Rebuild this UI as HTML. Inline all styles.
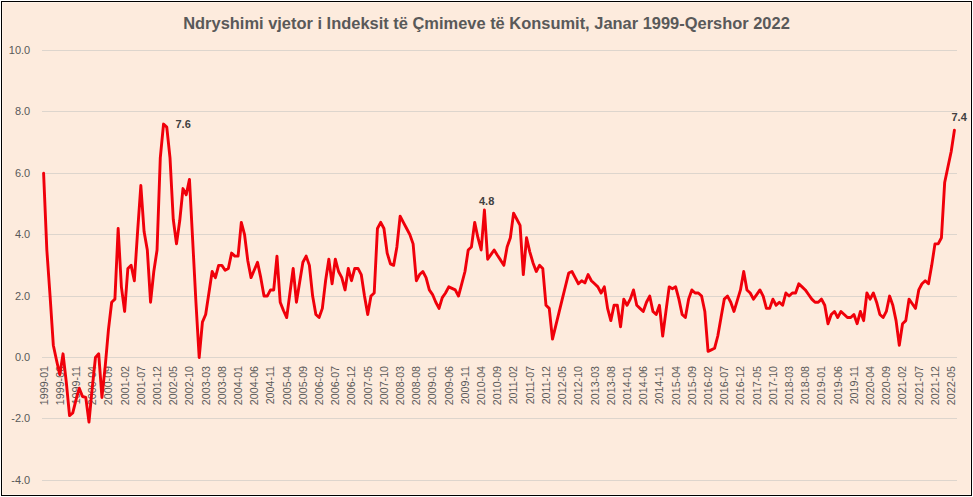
<!DOCTYPE html>
<html><head><meta charset="utf-8"><style>
html,body{margin:0;padding:0;background:#fff;}
svg{display:block;}
text{font-family:"Liberation Sans",sans-serif;}
</style></head><body>
<svg width="973" height="497" viewBox="0 0 973 497">
<rect x="0" y="0" width="973" height="497" fill="#ffffff"/>
<rect x="1.5" y="1.5" width="970" height="494" fill="#FDEBDD" stroke="#000" stroke-width="1"/>
<rect x="2.5" y="2.5" width="968" height="492" fill="none" stroke="#FEF3E9" stroke-width="1"/>
<text x="486.5" y="29" text-anchor="middle" font-size="16.45" font-weight="bold" fill="#595959">Ndryshimi vjetor i Indeksit të Çmimeve të Konsumit, Janar 1999-Qershor 2022</text>
<rect x="42" y="50" width="915" height="1" fill="#DDD5CD"/><rect x="42" y="111" width="915" height="1" fill="#DDD5CD"/><rect x="42" y="173" width="915" height="1" fill="#DDD5CD"/><rect x="42" y="234" width="915" height="1" fill="#DDD5CD"/><rect x="42" y="296" width="915" height="1" fill="#DDD5CD"/><rect x="42" y="357" width="915" height="1" fill="#DDD5CD"/><rect x="42" y="418" width="915" height="1" fill="#DDD5CD"/><rect x="42" y="480" width="915" height="1" fill="#DDD5CD"/>
<g font-size="11" fill="#595959"><text x="30.2" y="53.7" text-anchor="end">10.0</text><text x="30.2" y="114.7" text-anchor="end">8.0</text><text x="30.2" y="176.7" text-anchor="end">6.0</text><text x="30.2" y="237.7" text-anchor="end">4.0</text><text x="30.2" y="299.7" text-anchor="end">2.0</text><text x="30.2" y="360.7" text-anchor="end">0.0</text><text x="30.2" y="421.7" text-anchor="end">-2.0</text><text x="30.2" y="483.7" text-anchor="end">-4.0</text></g>
<g font-size="11" fill="#595959"><text transform="translate(47.50 366) rotate(-90) scale(0.97 1)" text-anchor="end">1999-01</text><text transform="translate(63.71 366) rotate(-90) scale(0.97 1)" text-anchor="end">1999-06</text><text transform="translate(79.91 366) rotate(-90) scale(0.97 1)" text-anchor="end">1999-11</text><text transform="translate(96.12 366) rotate(-90) scale(0.97 1)" text-anchor="end">2000-04</text><text transform="translate(112.33 366) rotate(-90) scale(0.97 1)" text-anchor="end">2000-09</text><text transform="translate(128.53 366) rotate(-90) scale(0.97 1)" text-anchor="end">2001-02</text><text transform="translate(144.74 366) rotate(-90) scale(0.97 1)" text-anchor="end">2001-07</text><text transform="translate(160.95 366) rotate(-90) scale(0.97 1)" text-anchor="end">2001-12</text><text transform="translate(177.15 366) rotate(-90) scale(0.97 1)" text-anchor="end">2002-05</text><text transform="translate(193.36 366) rotate(-90) scale(0.97 1)" text-anchor="end">2002-10</text><text transform="translate(209.56 366) rotate(-90) scale(0.97 1)" text-anchor="end">2003-03</text><text transform="translate(225.77 366) rotate(-90) scale(0.97 1)" text-anchor="end">2003-08</text><text transform="translate(241.98 366) rotate(-90) scale(0.97 1)" text-anchor="end">2004-01</text><text transform="translate(258.18 366) rotate(-90) scale(0.97 1)" text-anchor="end">2004-06</text><text transform="translate(274.39 366) rotate(-90) scale(0.97 1)" text-anchor="end">2004-11</text><text transform="translate(290.60 366) rotate(-90) scale(0.97 1)" text-anchor="end">2005-04</text><text transform="translate(306.80 366) rotate(-90) scale(0.97 1)" text-anchor="end">2005-09</text><text transform="translate(323.01 366) rotate(-90) scale(0.97 1)" text-anchor="end">2006-02</text><text transform="translate(339.22 366) rotate(-90) scale(0.97 1)" text-anchor="end">2006-07</text><text transform="translate(355.42 366) rotate(-90) scale(0.97 1)" text-anchor="end">2006-12</text><text transform="translate(371.63 366) rotate(-90) scale(0.97 1)" text-anchor="end">2007-05</text><text transform="translate(387.84 366) rotate(-90) scale(0.97 1)" text-anchor="end">2007-10</text><text transform="translate(404.04 366) rotate(-90) scale(0.97 1)" text-anchor="end">2008-03</text><text transform="translate(420.25 366) rotate(-90) scale(0.97 1)" text-anchor="end">2008-08</text><text transform="translate(436.46 366) rotate(-90) scale(0.97 1)" text-anchor="end">2009-01</text><text transform="translate(452.66 366) rotate(-90) scale(0.97 1)" text-anchor="end">2009-06</text><text transform="translate(468.87 366) rotate(-90) scale(0.97 1)" text-anchor="end">2009-11</text><text transform="translate(485.08 366) rotate(-90) scale(0.97 1)" text-anchor="end">2010-04</text><text transform="translate(501.28 366) rotate(-90) scale(0.97 1)" text-anchor="end">2010-09</text><text transform="translate(517.49 366) rotate(-90) scale(0.97 1)" text-anchor="end">2011-02</text><text transform="translate(533.69 366) rotate(-90) scale(0.97 1)" text-anchor="end">2011-07</text><text transform="translate(549.90 366) rotate(-90) scale(0.97 1)" text-anchor="end">2011-12</text><text transform="translate(566.11 366) rotate(-90) scale(0.97 1)" text-anchor="end">2012-05</text><text transform="translate(582.31 366) rotate(-90) scale(0.97 1)" text-anchor="end">2012-10</text><text transform="translate(598.52 366) rotate(-90) scale(0.97 1)" text-anchor="end">2013-03</text><text transform="translate(614.73 366) rotate(-90) scale(0.97 1)" text-anchor="end">2013-08</text><text transform="translate(630.93 366) rotate(-90) scale(0.97 1)" text-anchor="end">2014-01</text><text transform="translate(647.14 366) rotate(-90) scale(0.97 1)" text-anchor="end">2014-06</text><text transform="translate(663.35 366) rotate(-90) scale(0.97 1)" text-anchor="end">2014-11</text><text transform="translate(679.55 366) rotate(-90) scale(0.97 1)" text-anchor="end">2015-04</text><text transform="translate(695.76 366) rotate(-90) scale(0.97 1)" text-anchor="end">2015-09</text><text transform="translate(711.97 366) rotate(-90) scale(0.97 1)" text-anchor="end">2016-02</text><text transform="translate(728.17 366) rotate(-90) scale(0.97 1)" text-anchor="end">2016-07</text><text transform="translate(744.38 366) rotate(-90) scale(0.97 1)" text-anchor="end">2016-12</text><text transform="translate(760.59 366) rotate(-90) scale(0.97 1)" text-anchor="end">2017-05</text><text transform="translate(776.79 366) rotate(-90) scale(0.97 1)" text-anchor="end">2017-10</text><text transform="translate(793.00 366) rotate(-90) scale(0.97 1)" text-anchor="end">2018-03</text><text transform="translate(809.21 366) rotate(-90) scale(0.97 1)" text-anchor="end">2018-08</text><text transform="translate(825.41 366) rotate(-90) scale(0.97 1)" text-anchor="end">2019-01</text><text transform="translate(841.62 366) rotate(-90) scale(0.97 1)" text-anchor="end">2019-06</text><text transform="translate(857.82 366) rotate(-90) scale(0.97 1)" text-anchor="end">2019-11</text><text transform="translate(874.03 366) rotate(-90) scale(0.97 1)" text-anchor="end">2020-04</text><text transform="translate(890.24 366) rotate(-90) scale(0.97 1)" text-anchor="end">2020-09</text><text transform="translate(906.44 366) rotate(-90) scale(0.97 1)" text-anchor="end">2021-02</text><text transform="translate(922.65 366) rotate(-90) scale(0.97 1)" text-anchor="end">2021-07</text><text transform="translate(938.86 366) rotate(-90) scale(0.97 1)" text-anchor="end">2021-12</text><text transform="translate(955.06 366) rotate(-90) scale(0.97 1)" text-anchor="end">2022-05</text></g>
<polyline points="43.60,173.22 46.84,250.00 50.08,296.07 53.32,345.21 56.57,360.57 59.81,374.70 63.05,353.81 66.29,382.07 69.53,415.55 72.77,412.79 76.01,399.89 79.25,388.21 82.50,396.51 85.74,397.43 88.98,422.00 92.22,388.21 95.46,357.50 98.70,353.81 101.94,397.43 105.18,366.71 108.43,329.86 111.67,302.21 114.91,299.14 118.15,228.50 121.39,286.86 124.63,311.43 127.87,268.43 131.12,265.36 134.36,280.72 137.60,231.57 140.84,185.50 144.08,231.57 147.32,250.00 150.56,302.21 153.80,271.50 157.05,250.00 160.29,157.86 163.53,124.07 166.77,127.15 170.01,157.86 173.25,219.29 176.49,243.86 179.73,220.82 182.98,188.57 186.22,194.72 189.46,179.36 192.70,240.79 195.94,302.21 199.18,357.50 202.42,322.18 205.66,314.50 208.91,293.00 212.15,271.50 215.39,277.64 218.63,265.36 221.87,265.36 225.11,270.27 228.35,268.43 231.60,253.07 234.84,256.14 238.08,256.14 241.32,222.36 244.56,234.64 247.80,260.75 251.04,277.64 254.28,269.97 257.53,262.29 260.77,277.64 264.01,296.07 267.25,296.07 270.49,289.93 273.73,289.93 276.97,256.14 280.21,302.21 283.46,310.51 286.70,317.57 289.94,293.00 293.18,268.43 296.42,302.21 299.66,282.25 302.90,262.29 306.15,256.14 309.39,265.36 312.63,296.07 315.87,314.50 319.11,317.57 322.35,308.36 325.59,280.72 328.83,259.22 332.08,283.79 335.32,259.22 338.56,271.50 341.80,277.64 345.04,289.93 348.28,268.43 351.52,280.72 354.76,268.43 358.01,268.43 361.25,274.57 364.49,296.07 367.73,314.50 370.97,296.07 374.21,293.00 377.45,228.50 380.70,222.36 383.94,228.50 387.18,253.07 390.42,263.82 393.66,265.36 396.90,246.93 400.14,216.22 403.38,222.36 406.63,228.50 409.87,234.64 413.11,243.86 416.35,280.72 419.59,274.57 422.83,271.50 426.07,277.64 429.31,289.93 432.56,294.54 435.80,302.21 439.04,308.36 442.28,297.61 445.52,293.00 448.76,286.86 452.00,288.39 455.25,289.93 458.49,296.07 461.73,283.79 464.97,271.50 468.21,250.00 471.45,246.93 474.69,222.36 477.93,237.72 481.18,250.00 484.42,210.07 487.66,259.22 490.90,254.61 494.14,250.00 497.38,255.22 500.62,260.14 503.86,265.36 507.11,246.93 510.35,237.72 513.59,213.14 516.83,219.29 520.07,225.43 523.31,274.57 526.55,237.72 529.79,251.84 533.04,262.90 536.28,271.50 539.52,265.36 542.76,268.43 546.00,305.29 549.24,308.36 552.48,339.07 555.73,325.86 558.97,312.66 562.21,299.45 565.45,286.24 568.69,273.04 571.93,271.50 575.17,277.64 578.41,283.79 581.66,280.72 584.90,282.86 588.14,274.57 591.38,280.72 594.62,283.79 597.86,286.86 601.10,293.00 604.34,286.86 607.59,308.36 610.83,320.64 614.07,305.29 617.31,305.29 620.55,326.79 623.79,299.14 627.03,305.29 630.28,299.14 633.52,289.93 636.76,305.29 640.00,308.36 643.24,311.43 646.48,302.21 649.72,296.07 652.96,311.43 656.21,314.50 659.45,305.29 662.69,336.00 665.93,311.43 669.17,286.86 672.41,288.70 675.65,286.86 678.89,299.14 682.14,314.50 685.38,317.57 688.62,299.14 691.86,289.93 695.10,293.00 698.34,293.00 701.58,296.07 704.83,311.43 708.07,351.36 711.31,349.82 714.55,348.29 717.79,336.00 721.03,317.57 724.27,299.14 727.51,296.07 730.76,302.21 734.00,311.43 737.24,300.68 740.48,289.93 743.72,271.50 746.96,289.93 750.20,293.00 753.44,299.14 756.69,294.54 759.93,289.93 763.17,296.07 766.41,308.36 769.65,308.36 772.89,299.14 776.13,305.29 779.38,302.21 782.62,305.29 785.86,293.00 789.10,296.07 792.34,293.00 795.58,293.00 798.82,283.79 802.06,286.86 805.31,289.93 808.55,294.54 811.79,299.14 815.03,302.21 818.27,302.21 821.51,299.14 824.75,305.29 827.99,323.71 831.24,314.50 834.48,311.43 837.72,317.57 840.96,311.43 844.20,314.50 847.44,317.57 850.68,317.57 853.92,314.50 857.17,323.71 860.41,311.43 863.65,320.64 866.89,293.00 870.13,299.14 873.37,293.00 876.61,302.21 879.86,314.50 883.10,317.57 886.34,311.43 889.58,296.07 892.82,305.29 896.06,320.64 899.30,345.21 902.54,323.71 905.79,320.64 909.03,299.14 912.27,303.75 915.51,308.36 918.75,289.93 921.99,283.79 925.23,280.72 928.47,283.79 931.72,265.36 934.96,243.86 938.20,243.86 941.44,237.72 944.68,182.43 947.92,167.07 951.16,151.72 954.41,130.22" fill="none" stroke="#F0000A" stroke-width="2.9" stroke-linejoin="round" stroke-linecap="round"/>
<g font-size="11" font-weight="bold" fill="#404040">
<text x="175.5" y="128">7.6</text>
<text x="479" y="205">4.8</text>
<text x="951.5" y="121">7.4</text>
</g>
</svg>
</body></html>
